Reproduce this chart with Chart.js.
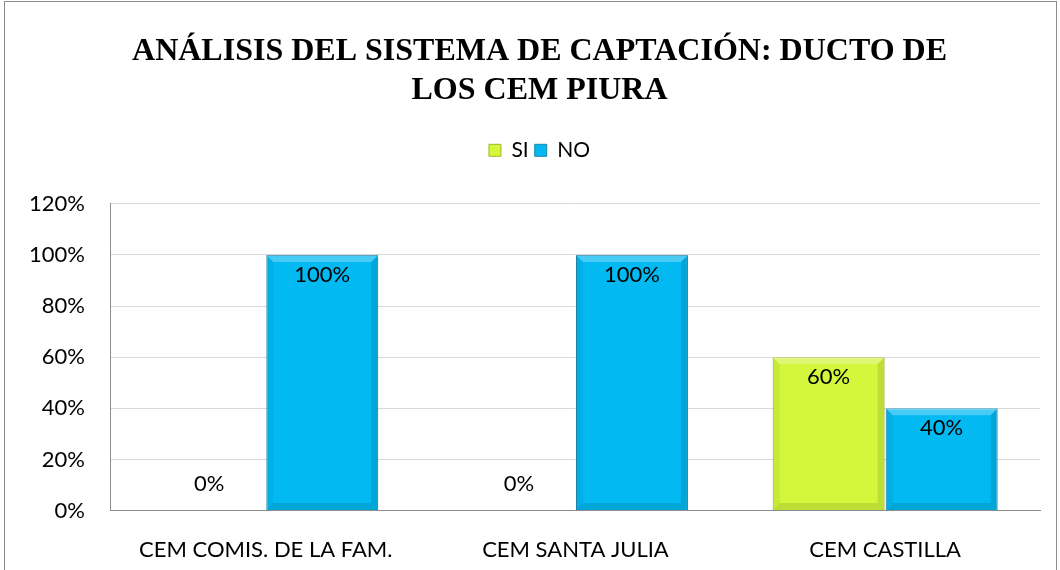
<!DOCTYPE html>
<html>
<head>
<meta charset="utf-8">
<script src="https://cdn.jsdelivr.net/npm/chart.js@4"></script>
<style>
  body { margin: 0; background: #fff; }
  #wrap { width: 1060px; height: 570px; position: relative; }
</style>
</head>
<body>
<div id="wrap"><canvas id="chart" width="1060" height="570"></canvas></div>
<script>
// chart data
const categories = ['CEM COMIS. DE LA FAM.', 'CEM SANTA JULIA', 'CEM CASTILLA'];
const siValues = [0, 0, 60];
const noValues = [100, 100, 40];
const yTicks = [0, 20, 40, 60, 80, 100, 120];
const titleLines = ['ANÁLISIS DEL SISTEMA DE CAPTACIÓN: DUCTO DE', 'LOS CEM PIURA'];

const sansFamily = 'Lato, "Noto Sans", sans-serif';
const labelFont = '22px ' + sansFamily;

// extra room under the legend
const legendGap = {
    id: 'legendGap',
    beforeInit(chart) {
        const fit = chart.legend.fit;
        chart.legend.fit = function () {
            fit.bind(chart.legend)();
            this.height += 33;
        };
    }
};

// soft bevel on the bars
const bevel = {
    id: 'bevel',
    afterDatasetsDraw(chart) {
        const ctx = chart.ctx;
        const e = 7;
        chart.data.datasets.forEach((ds, i) => {
            chart.getDatasetMeta(i).data.forEach(bar => {
                const l = bar.x - bar.width / 2, r = bar.x + bar.width / 2;
                const t = bar.y, b = bar.base;
                if (b - t < 2 * e) return;
                ctx.save();
                // top
                ctx.fillStyle = 'rgba(255,255,255,0.28)';
                ctx.beginPath();
                ctx.moveTo(l, t); ctx.lineTo(r, t); ctx.lineTo(r - e, t + e); ctx.lineTo(l + e, t + e);
                ctx.fill();
                // right + bottom
                ctx.fillStyle = 'rgba(0,0,0,0.10)';
                ctx.beginPath();
                ctx.moveTo(r, t); ctx.lineTo(r, b); ctx.lineTo(r - e, b - e); ctx.lineTo(r - e, t + e);
                ctx.fill();
                ctx.beginPath();
                ctx.moveTo(l, b); ctx.lineTo(r, b); ctx.lineTo(r - e, b - e); ctx.lineTo(l + e, b - e);
                ctx.fill();
                // left
                ctx.fillStyle = 'rgba(0,0,0,0.05)';
                ctx.beginPath();
                ctx.moveTo(l, t); ctx.lineTo(l + e, t + e); ctx.lineTo(l + e, b - e); ctx.lineTo(l, b);
                ctx.fill();
                ctx.restore();
            });
        });
    }
};

// outer frame + value labels
const extras = {
    id: 'extras',
    afterDraw(chart) {
        const ctx = chart.ctx;
        ctx.save();
        ctx.strokeStyle = '#8c8c8c';
        ctx.lineWidth = 1;
        ctx.strokeRect(4.5, 1.5, 1052, 600);

        ctx.font = labelFont;
        ctx.fillStyle = '#000';
        ctx.textAlign = 'center';
        ctx.textBaseline = 'middle';
        chart.data.datasets.forEach((ds, i) => {
            const meta = chart.getDatasetMeta(i);
            meta.data.forEach((bar, j) => {
                const v = ds.data[j];
                const y = v === 0 ? bar.y - 27 : bar.y + 20;
                ctx.fillText(v + '%', bar.x, y);
            });
        });
        ctx.restore();
    }
};

new Chart(document.getElementById('chart'), {
    type: 'bar',
    data: {
        labels: categories,
        datasets: [
            {
                label: 'SI',
                data: siValues,
                backgroundColor: '#d4f63b',
                borderColor: '#9fb828',
                borderWidth: 1
            },
            {
                label: 'NO',
                data: noValues,
                backgroundColor: '#02b9f1',
                borderColor: '#1a86ab',
                borderWidth: 1
            }
        ]
    },
    options: {
        responsive: false,
        animation: false,
        layout: { padding: { left: 39, right: 20, top: 16, bottom: -11 } },
        datasets: {
            bar: { categoryPercentage: 0.73, barPercentage: 0.99 }
        },
        plugins: {
            title: {
                display: true,
                text: titleLines,
                color: '#000',
                font: { family: '"Liberation Serif", serif', size: 32, weight: 'bold', lineHeight: 1.2 },
                padding: { top: 17, bottom: 24 }
            },
            legend: {
                display: true,
                labels: {
                    color: '#000',
                    boxWidth: 12,
                    boxHeight: 12,
                    padding: 6,
                    font: { family: sansFamily, size: 21 }
                }
            },
            tooltip: { enabled: false }
        },
        scales: {
            x: {
                grid: { display: false },
                border: { color: '#8c8c8c', width: 1 },
                ticks: {
                    color: '#000',
                    padding: 18,
                    maxRotation: 0,
                    font: { family: sansFamily, size: 22 }
                }
            },
            y: {
                min: 0,
                max: 120,
                afterBuildTicks(axis) {
                    axis.ticks = yTicks.map(v => ({ value: v }));
                },
                afterFit(axis) {
                    // narrower axis box, labels may spill into the left padding
                    axis.width -= 36;
                    axis._computeLabelArea = () => undefined;
                },
                grid: { color: '#d9d9d9', drawTicks: false },
                border: { color: '#8c8c8c', width: 1 },
                ticks: {
                    color: '#000',
                    padding: 26,
                    callback: v => v + '%',
                    font: { family: sansFamily, size: 22 }
                }
            }
        }
    },
    plugins: [legendGap, bevel, extras]
});
</script>
</body>
</html>
